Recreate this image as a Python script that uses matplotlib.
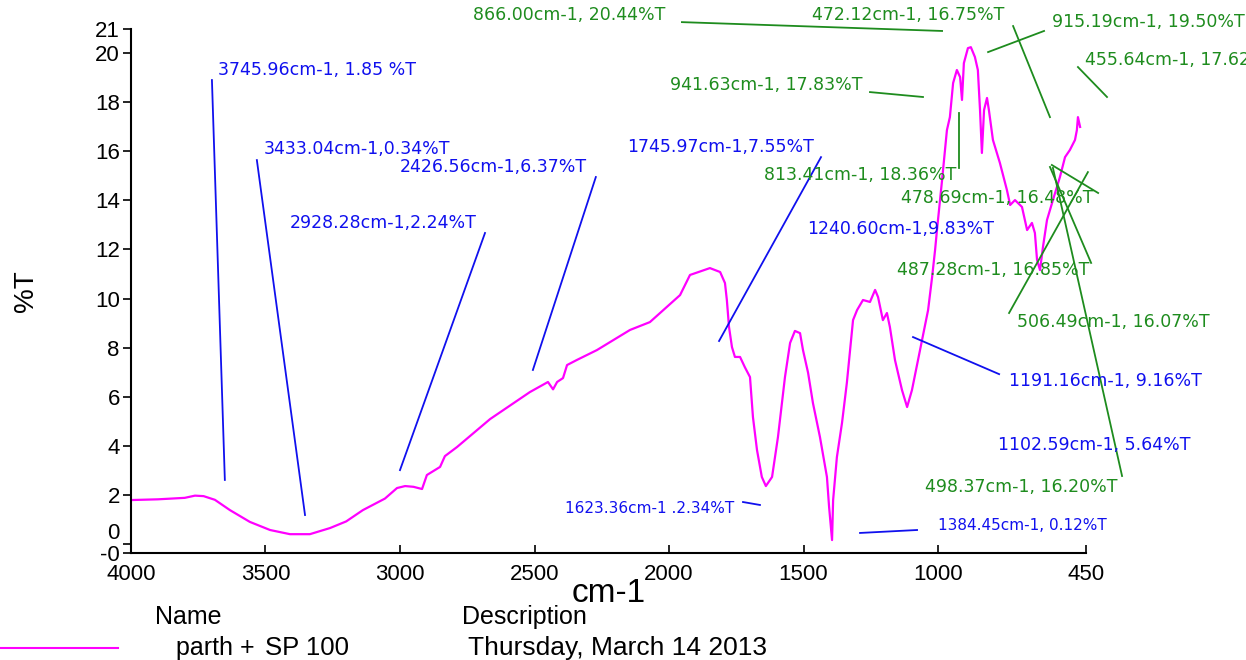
"""plot.py
FTIR transmittance spectrum with peak picks (parth + SP 100).
"""

import matplotlib
matplotlib.use("Agg")
import matplotlib.pyplot as plt

# spectrum (cm-1, %T)
wavenumber = [4000, 3900, 3800, 3762, 3730, 3688, 3632, 3558, 3483, 3409,
              3335, 3260, 3200, 3138, 3056, 3011, 2981, 2950, 2918, 2900,
              2851, 2833, 2788, 2665, 2517, 2450, 2431, 2416, 2394, 2379,
              2342, 2268, 2145, 2071, 1959, 1922, 1885, 1848, 1810, 1792,
              1785, 1777, 1766, 1755, 1736, 1718, 1699, 1688, 1673, 1655,
              1640, 1617, 1595, 1569, 1550, 1532, 1513, 1502, 1483, 1465,
              1439, 1413, 1405, 1394, 1390, 1376, 1357, 1339, 1316, 1301,
              1279, 1253, 1234, 1223, 1205, 1190, 1179, 1160, 1134, 1115,
              1097, 1067, 1037, 1022, 1011, 1004, 985, 967, 956, 944,
              930, 918, 911, 904, 889, 878, 863, 852, 844, 837,
              829, 818, 811, 796, 770, 744, 732, 714, 688, 669,
              651, 640, 632, 621, 610, 595, 573, 547, 528, 510,
              491, 484, 480, 472]
transmittance = [1.79, 1.82, 1.88, 1.97, 1.95, 1.80, 1.38, 0.90, 0.57, 0.40,
                 0.40, 0.65, 0.92, 1.38, 1.85, 2.28, 2.36, 2.33, 2.24, 2.81,
                 3.14, 3.58, 3.95, 5.09, 6.19, 6.60, 6.30, 6.60, 6.76, 7.29,
                 7.50, 7.90, 8.72, 9.04, 10.14, 10.96, 11.10, 11.24, 11.08, 10.63,
                 9.94, 8.84, 8.02, 7.62, 7.62, 7.20, 6.80, 5.17, 3.83, 2.73,
                 2.36, 2.73, 4.36, 6.80, 8.19, 8.68, 8.59, 7.90, 6.97, 5.74,
                 4.36, 2.73, 1.51, 0.16, 1.79, 3.54, 4.93, 6.56, 9.12, 9.53,
                 9.94, 9.86, 10.35, 10.06, 9.12, 9.41, 8.84, 7.49, 6.27, 5.58,
                 6.27, 7.90, 9.53, 10.88, 11.98, 12.79, 14.83, 16.86, 17.39, 18.78,
                 19.31, 19.02, 18.09, 19.59, 20.20, 20.24, 19.84, 19.31, 17.68, 15.93,
                 17.68, 18.17, 17.68, 16.46, 15.52, 14.42, 13.81, 14.01, 13.73, 12.79,
                 13.08, 12.67, 11.57, 11.16, 12.10, 13.20, 14.01, 14.95, 15.76, 16.05,
                 16.46, 16.86, 17.39, 16.99]

x_ticks = [4000, 3500, 3000, 2500, 2000, 1500, 1000, 450]
y_ticks = [-0.37, 0, 2, 4, 6, 8, 10, 12, 14, 16, 18, 20, 21]
y_tick_labels = ["-0", "0", "2", "4", "6", "8", "10", "12", "14", "16", "18", "20", "21"]

# peak pick labels: text, label position (cm-1, %T)
blue_labels = ["3745.96cm-1, 1.85 %T", "3433.04cm-1,0.34%T", "2928.28cm-1,2.24%T",
               "2426.56cm-1,6.37%T", "1745.97cm-1,7.55%T", "1240.60cm-1,9.83%T",
               "1191.16cm-1, 9.16%T", "1102.59cm-1, 5.64%T"]
blue_label_x = [3677, 3506, 3409, 3000, 2156, 1487, 736, 777]
blue_label_y = [19.31, 16.09, 13.08, 15.36, 16.17, 12.83, 6.64, 4.03]
small_labels = ["1623.36cm-1 .2.34%T", "1384.45cm-1, 0.12%T"]
small_label_x = [2387, 1000]
small_label_y = [1.43, 0.77]
green_labels = ["866.00cm-1, 20.44%T", "472.12cm-1, 16.75%T", "915.19cm-1, 19.50%T",
                "455.64cm-1, 17.62%T", "941.63cm-1, 17.83%T", "813.41cm-1, 18.36%T",
                "478.69cm-1, 16.48%T", "487.28cm-1, 16.85%T", "506.49cm-1, 16.07%T",
                "498.37cm-1, 16.20%T"]
green_label_x = [2729, 1469, 576, 454, 1996, 1647, 1138, 1153, 707, 1049]
green_label_y = [21.55, 21.55, 21.26, 19.71, 18.70, 15.03, 14.09, 11.16, 9.04, 2.32]

# leader lines: (x0, y0, x1, y1)
blue_leaders = [(3699, 18.9, 3651, 2.61), (3532, 15.64, 3353, 1.18),
                (2684, 12.67, 3000, 3.01), (2272, 14.95, 2506, 7.09),
                (1435, 15.76, 1814, 8.27), (1093, 8.43, 773, 6.92),
                (1725, 1.71, 1662, 1.59), (1290, 0.45, 1078, 0.57)]
green_leaders = [(1952, 21.26, 985, 20.9), (814, 20.04, 606, 20.9),
                 (721, 21.1, 584, 17.39), (480, 19.43, 372, 18.21),
                 (1253, 18.41, 1056, 18.21), (922, 17.56, 922, 15.32),
                 (577, 15.44, 405, 14.30), (443, 15.15, 736, 9.41),
                 (584, 15.36, 431, 11.45), (573, 15.32, 316, 2.77)]

BLUE = "#1010ee"
GREEN = "#1e8c1e"
MAGENTA = "#ff00ff"

fig = plt.figure(figsize=(12.46, 6.6), dpi=100)
ax = fig.add_axes([0.1051, 0.162, 0.7665, 0.7948])

ax.plot(wavenumber, transmittance, color=MAGENTA, lw=1.6)

for x0, y0, x1, y1 in blue_leaders:
    ax.plot([x0, x1], [y0, y1], color=BLUE, lw=1.3, clip_on=False)
for x0, y0, x1, y1 in green_leaders:
    ax.plot([x0, x1], [y0, y1], color=GREEN, lw=1.3, clip_on=False)

for t, x, y in zip(blue_labels, blue_label_x, blue_label_y):
    ax.text(x, y, t, color=BLUE, fontsize=12.5, family="DejaVu Sans",
            va="center", ha="left", clip_on=False)
for t, x, y in zip(small_labels, small_label_x, small_label_y):
    ax.text(x, y, t, color=BLUE, fontsize=11, family="DejaVu Sans",
            va="center", ha="left", clip_on=False)
for t, x, y in zip(green_labels, green_label_x, green_label_y):
    ax.text(x, y, t, color=GREEN, fontsize=12.5, family="DejaVu Sans",
            va="center", ha="left", clip_on=False)

ax.set_xlim(4000, 450)
ax.set_ylim(-0.37, 21)
ax.set_xticks(x_ticks)
ax.set_xticklabels([str(v) for v in x_ticks], family="Liberation Sans", fontsize=16)
ax.set_yticks(y_ticks)
ax.set_yticklabels(y_tick_labels, family="Liberation Sans", fontsize=16)
ax.get_yticklabels()[1].set_va("bottom")
ax.tick_params(axis="x", direction="in", length=6, width=1.2, pad=8)
ax.tick_params(axis="y", direction="out", length=6, width=1.2, pad=2)
for side in ("top", "right"):
    ax.spines[side].set_visible(False)
for side in ("left", "bottom"):
    ax.spines[side].set_linewidth(1.5)

ax.set_xlabel("cm-1", family="Liberation Sans", fontsize=24, labelpad=-5)
ax.set_ylabel("%T", family="Liberation Sans", fontsize=20, labelpad=40)

# sample table under the plot
fig.text(155 / 1246, 1 - 617 / 660, "Name", family="Liberation Sans", fontsize=18, va="center")
fig.text(462 / 1246, 1 - 617 / 660, "Description", family="Liberation Sans", fontsize=18, va="center")
fig.add_artist(plt.Line2D([0, 118 / 1246], [1 - 648 / 660] * 2, color=MAGENTA, lw=1.5))
fig.text(176 / 1246, 1 - 648 / 660, "parth +", family="Liberation Sans", fontsize=18, va="center")
fig.text(265 / 1246, 1 - 648 / 660, "SP 100", family="Liberation Sans", fontsize=18.5, va="center")
fig.text(468 / 1246, 1 - 648 / 660, "Thursday, March 14 2013", family="Liberation Sans",
         fontsize=19, va="center")

fig.savefig("out.png", dpi=100)
